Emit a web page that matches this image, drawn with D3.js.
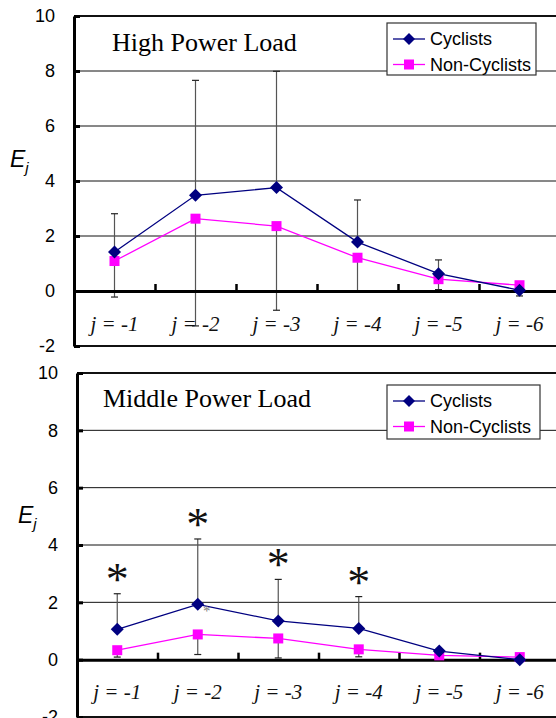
<!DOCTYPE html>
<html lang="en">
<head>
    <meta charset="utf-8">
    <title>E_j</title>
    <script src="https://d3js.org/d3.v7.min.js"></script>
    <style>
        body { margin: 0; background: #fff; }
        svg { display: block; }
    </style>
</head>
<body>
<svg width="556" height="718"></svg>
<script>
    var categories = ["j = -1", "j = -2", "j = -3", "j = -4", "j = -5", "j = -6"];
    var yTicks = [-2, 0, 2, 4, 6, 8, 10];
    var seriesNames = ["Cyclists", "Non-Cyclists"];

    // High Power Load
    var highCyclists = [1.42, 3.48, 3.76, 1.78, 0.63, 0.03];
    var highNonCyclists = [1.09, 2.63, 2.36, 1.21, 0.43, 0.21];
    var highCyclistsUpper = [2.81, 7.66, 7.99, 3.31, 1.13, null];
    var highNonCyclistsLower = [-0.22, -1.27, -0.70, 0.00, 0.05, -0.18];
    var highStars = [false, false, false, false, false, false];

    // Middle Power Load
    var midCyclists = [1.06, 1.93, 1.35, 1.09, 0.30, 0.00];
    var midNonCyclists = [0.33, 0.88, 0.74, 0.36, 0.15, 0.09];
    var midCyclistsUpper = [2.30, 4.21, 2.80, 2.20, null, null];
    var midNonCyclistsLower = [0.09, 0.18, 0.06, 0.10, null, null];
    var midStars = [true, true, true, true, false, false];

    var colors = {cyc: "#000080", non: "#ff00ff"};

    var panels = [
        {title: "High Power Load", titleX: 112, titleY: 51,
         left: 74, right: 560, top: 16, bottom: 346,
         cyc: highCyclists, non: highNonCyclists, up: highCyclistsUpper, low: highNonCyclistsLower,
         stars: highStars, smallStar: false,
         legend: {x: 387, y: 23, w: 149, h: 52}, ejX: 10, ejY: 167},
        {title: "Middle Power Load", titleX: 103, titleY: 407,
         left: 77, right: 560, top: 373, bottom: 717,
         cyc: midCyclists, non: midNonCyclists, up: midCyclistsUpper, low: midNonCyclistsLower,
         stars: midStars, smallStar: true,
         legend: {x: 387, y: 385, w: 153, h: 54}, ejX: 18, ejY: 523}
    ];

    var svg = d3.select("svg");
    var diamond = function (r) { return "M0," + (-r) + "L" + r + ",0L0," + r + "L" + (-r) + ",0Z"; };

    panels.forEach(function (p) {
        var g = svg.append("g");

        var y = d3.scaleLinear().domain([-2, 10]).range([p.bottom, p.top]);
        var xBand = d3.scaleBand().domain(categories).range([p.left, p.right]);
        var edge = d3.scaleLinear().domain([0, categories.length]).range([p.left, p.right]);
        var cx = function (i) { return xBand(categories[i]) + xBand.bandwidth() / 2; };

        // 网格线
        g.selectAll("line.grid")
            .data(yTicks.filter(function (d) { return d !== 0; }))
            .enter().append("line")
            .attr("class", "grid")
            .attr("x1", p.left).attr("x2", p.right)
            .attr("y1", function (d) { return y(d); })
            .attr("y2", function (d) { return y(d); })
            .attr("stroke", "#111")
            .attr("stroke-width", function (d) { return (d === 10 || d === -2) ? 2 : 1; });

        // title
        g.append("text")
            .attr("x", p.titleX).attr("y", p.titleY)
            .attr("font-family", "'Liberation Serif','Times New Roman',serif")
            .attr("font-size", 26)
            .attr("fill", "#000")
            .text(p.title);

        // error bars
        var bars = [];
        categories.forEach(function (c, i) {
            if (p.up[i] !== null) bars.push({i: i, from: p.cyc[i], to: p.up[i]});
            if (p.low[i] !== null) bars.push({i: i, from: p.non[i], to: p.low[i]});
        });
        var eb = g.append("g").attr("stroke", "#555").attr("stroke-width", 1.2);
        eb.selectAll("line.v").data(bars).enter().append("line")
            .attr("x1", function (d) { return cx(d.i); })
            .attr("x2", function (d) { return cx(d.i); })
            .attr("y1", function (d) { return y(d.from); })
            .attr("y2", function (d) { return y(d.to); });
        eb.selectAll("line.cap").data(bars).enter().append("line")
            .attr("x1", function (d) { return cx(d.i) - 3.5; })
            .attr("x2", function (d) { return cx(d.i) + 3.5; })
            .attr("y1", function (d) { return y(d.to); })
            .attr("y2", function (d) { return y(d.to); })
            .attr("stroke", "#222");

        // y axis
        var yAxis = d3.axisLeft(y).tickValues(yTicks).tickSizeInner(-6).tickSizeOuter(0).tickPadding(19)
            .tickFormat(function (d) { return String(d); });
        var ya = g.append("g").attr("transform", "translate(" + p.left + ",0)").call(yAxis);
        ya.select(".domain").attr("stroke", "#000").attr("stroke-width", 3);
        ya.selectAll(".tick line").attr("stroke", "#000").attr("stroke-width", 3);
        ya.selectAll(".tick text")
            .attr("font-family", "'Liberation Sans',Arial,sans-serif")
            .attr("font-size", 18).attr("fill", "#000");

        // x axis at zero
        var xAxis = d3.axisBottom(edge).tickValues(d3.range(1, categories.length))
            .tickSizeInner(-7).tickSizeOuter(0).tickFormat("");
        var xa = g.append("g").attr("transform", "translate(0," + y(0) + ")").call(xAxis);
        xa.select(".domain").attr("stroke", "#000").attr("stroke-width", 3);
        xa.selectAll(".tick line").attr("stroke", "#000").attr("stroke-width", 2.5);

        // category labels
        g.selectAll("text.cat").data(categories).enter().append("text")
            .attr("class", "cat")
            .attr("x", function (d, i) { return cx(i); })
            .attr("y", y(0) + 39.5)
            .attr("text-anchor", "middle")
            .attr("font-family", "'Liberation Serif','Times New Roman',serif")
            .attr("font-style", "italic")
            .attr("font-size", 21)
            .attr("fill", "#111")
            .text(function (d) { return d; });

        // lines
        var line = d3.line()
            .x(function (d, i) { return cx(i); })
            .y(function (d) { return y(d); });
        g.append("path").datum(p.non).attr("d", line)
            .attr("fill", "none").attr("stroke", colors.non).attr("stroke-width", 1.3);
        g.append("path").datum(p.cyc).attr("d", line)
            .attr("fill", "none").attr("stroke", colors.cyc).attr("stroke-width", 1.3);

        // markers
        g.selectAll("rect.non").data(p.non).enter().append("rect")
            .attr("x", function (d, i) { return cx(i) - 5; })
            .attr("y", function (d) { return y(d) - 5; })
            .attr("width", 10).attr("height", 10)
            .attr("fill", colors.non);
        g.selectAll("path.cyc").data(p.cyc).enter().append("path")
            .attr("d", diamond(6.5))
            .attr("transform", function (d, i) { return "translate(" + cx(i) + "," + y(d) + ")"; })
            .attr("fill", colors.cyc);

        // significance stars
        var starData = [];
        p.stars.forEach(function (s, i) { if (s) starData.push({i: i, v: p.up[i]}); });
        g.selectAll("text.star").data(starData).enter().append("text")
            .attr("x", function (d) { return cx(d.i); })
            .attr("y", function (d) { return y(d.v) + 1; })
            .attr("text-anchor", "middle")
            .attr("font-family", "'Liberation Serif','Times New Roman',serif")
            .attr("font-size", 46)
            .attr("fill", "#111")
            .text("*");
        if (p.smallStar) {
            g.append("text")
                .attr("x", cx(1) + 9).attr("y", y(p.cyc[1]) + 12)
                .attr("text-anchor", "middle")
                .attr("font-family", "'Liberation Serif','Times New Roman',serif")
                .attr("font-size", 15)
                .attr("fill", "#777")
                .text("*");
        }

        // E_j label
        var ej = g.append("text")
            .attr("x", p.ejX).attr("y", p.ejY)
            .attr("font-family", "'Liberation Sans',Arial,sans-serif")
            .attr("font-style", "italic")
            .attr("fill", "#000");
        ej.append("tspan").attr("font-size", 23).text("E");
        ej.append("tspan").attr("font-size", 15).attr("dy", 6).text("j");

        // legend
        var L = p.legend;
        var lg = g.append("g").attr("transform", "translate(" + L.x + "," + L.y + ")");
        lg.append("rect").attr("width", L.w).attr("height", L.h)
            .attr("fill", "#fff").attr("stroke", "#333").attr("stroke-width", 1.2);
        seriesNames.forEach(function (name, k) {
            var ry = 16 + k * 25.5;
            var col = k === 0 ? colors.cyc : colors.non;
            lg.append("line").attr("x1", 6).attr("x2", 38).attr("y1", ry).attr("y2", ry)
                .attr("stroke", col).attr("stroke-width", 1.3);
            if (k === 0) {
                lg.append("path").attr("d", diamond(6)).attr("transform", "translate(22," + ry + ")").attr("fill", col);
            } else {
                lg.append("rect").attr("x", 17).attr("y", ry - 5).attr("width", 10).attr("height", 10).attr("fill", col);
            }
            lg.append("text").attr("x", 43).attr("y", ry).attr("dy", "0.35em")
                .attr("font-family", "'Liberation Sans',Arial,sans-serif")
                .attr("font-size", 18).attr("fill", "#000")
                .text(name);
        });
    });
</script>
</body>
</html>
